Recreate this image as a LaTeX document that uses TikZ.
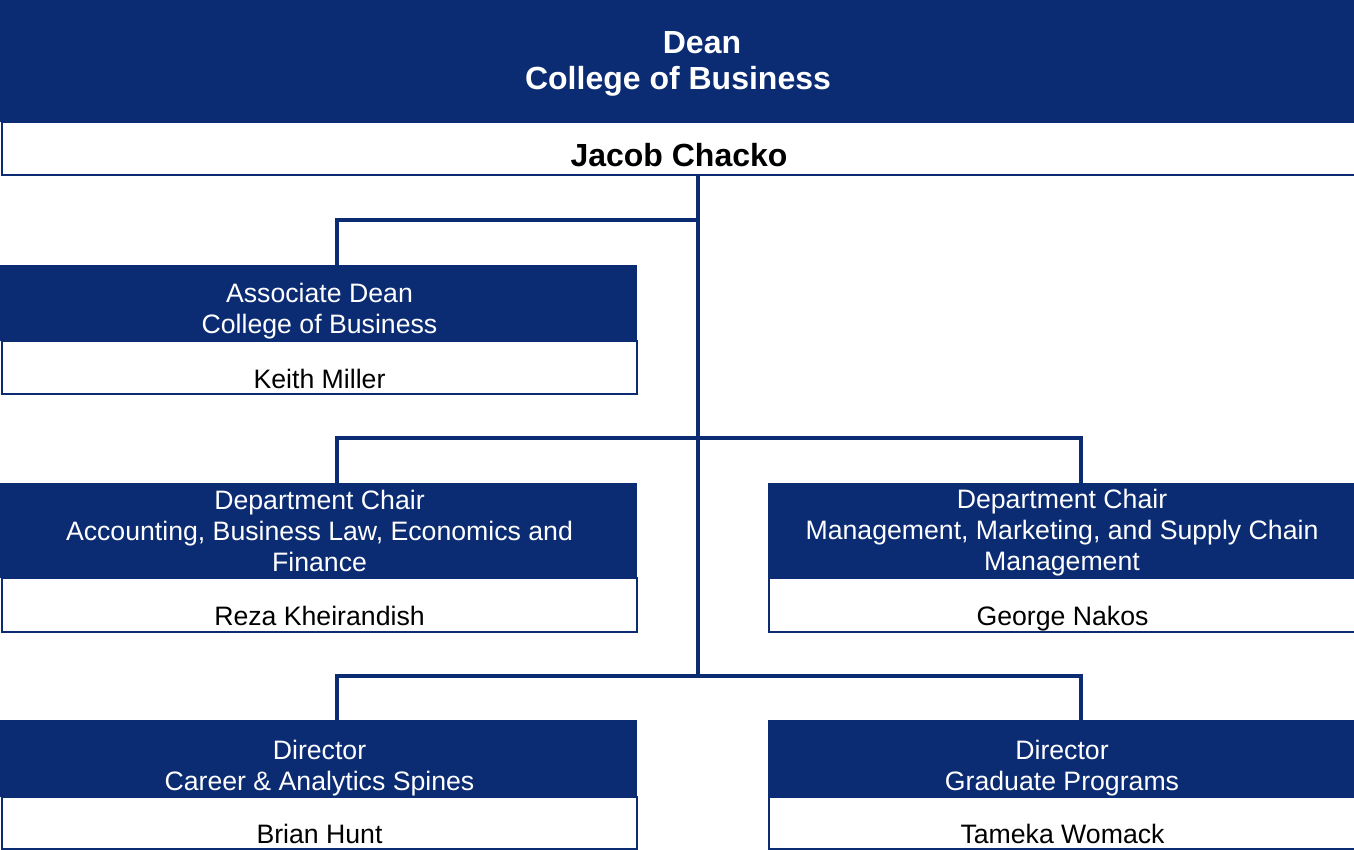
\documentclass[tikz,border=0pt]{standalone}
\usepackage{fontspec}
\setmainfont{Liberation Sans}
\definecolor{navy}{RGB}{11,43,115}
\begin{document}
\begin{tikzpicture}[
  x=0.75pt, y=-0.75pt,
  head/.style={fill=navy, draw=none, anchor=north west, inner sep=0pt, outer sep=0pt},
  card/.style={draw=navy, line width=2pt, fill=white, anchor=north west, inner sep=0pt, outer sep=0pt,
    font=\fontsize{20}{23.25}\selectfont},
  title/.style={text=white, align=center, font=\fontsize{20}{23.25}\selectfont},
  link/.style={draw=navy, line width=3pt}
]
\path[use as bounding box, clip] (0,0) rectangle (1354,850);
\fill[white] (0,0) rectangle (1354,850);
% columns and bars of the connectors
\coordinate (colL) at (337,0);
\coordinate (colM) at (698,0);
\coordinate (colR) at (1081,0);
\coordinate (bar1) at (0,220);
\coordinate (bar2) at (0,438);
\coordinate (bar3) at (0,676);
% dean
\node[head, minimum width=1017pt, minimum height=91.5pt] (dean) at (0,0) {};
\node[title, font=\fontsize{24}{27}\selectfont\bfseries] (deanT) at (678,63.5) {\hspace*{36pt}Dean\\College of Business};
\node[card, minimum width=1015.5pt, minimum height=39.75pt, text height=33pt, text depth=6.75pt,
  font=\fontsize{24}{27}\selectfont\bfseries] (deanN) at (2,122) {Jacob Chacko};
% associate dean
\node[head, minimum width=477.75pt, minimum height=57pt] (assoc) at (0,265) {};
\node[title] (assocT) at (319.5,311) {Associate Dean\\College of Business};
\node[card, minimum width=476.25pt, minimum height=39.75pt, text height=35.25pt, text depth=4.5pt] (assocN) at (2,341) {Keith Miller};
% department chairs
\node[head, minimum width=477.75pt, minimum height=71.25pt] (deptL) at (0,483) {};
\node[title] (deptLT) at (319.5,530.5) {Department Chair\\Accounting, Business Law, Economics and\\Finance};
\node[card, minimum width=476.25pt, minimum height=40.5pt, text height=35.25pt, text depth=5.25pt] (deptLN) at (2,578) {Reza Kheirandish};
\node[head, minimum width=441pt, minimum height=71.25pt] (deptR) at (768,483) {};
\node[title] (deptRT) at (1062,533) {Department Chair\\Management, Marketing, and Supply Chain\\Management};
\node[card, minimum width=440.25pt, minimum height=40.5pt, text height=35.25pt, text depth=5.25pt] (deptRN) at (769,578) {George Nakos};
% directors
\node[head, minimum width=477.75pt, minimum height=57.75pt] (dirL) at (0,720) {};
\node[title] (dirLT) at (319.5,768) {Director\\Career \& Analytics Spines};
\node[card, minimum width=476.25pt, minimum height=39pt, text height=34.5pt, text depth=4.5pt] (dirLN) at (2,797) {Brian Hunt};
\node[head, minimum width=441pt, minimum height=57.75pt] (dirR) at (768,720) {};
\node[title] (dirRT) at (1062,768) {Director\\Graduate Programs};
\node[card, minimum width=440.25pt, minimum height=39pt, text height=34.5pt, text depth=4.5pt] (dirRN) at (769,797) {Tameka Womack};
% connectors
\draw[link] (deanN.south -| colM) -- (bar3 -| colM);
\draw[link] (bar1 -| colM) -| (assoc.north -| colL);
\draw[link] (deptL.north -| colL) |- (bar2 -| colR) -- (deptR.north -| colR);
\draw[link] (dirL.north -| colL) |- (bar3 -| colR) -- (dirR.north -| colR);
\end{tikzpicture}
\end{document}
